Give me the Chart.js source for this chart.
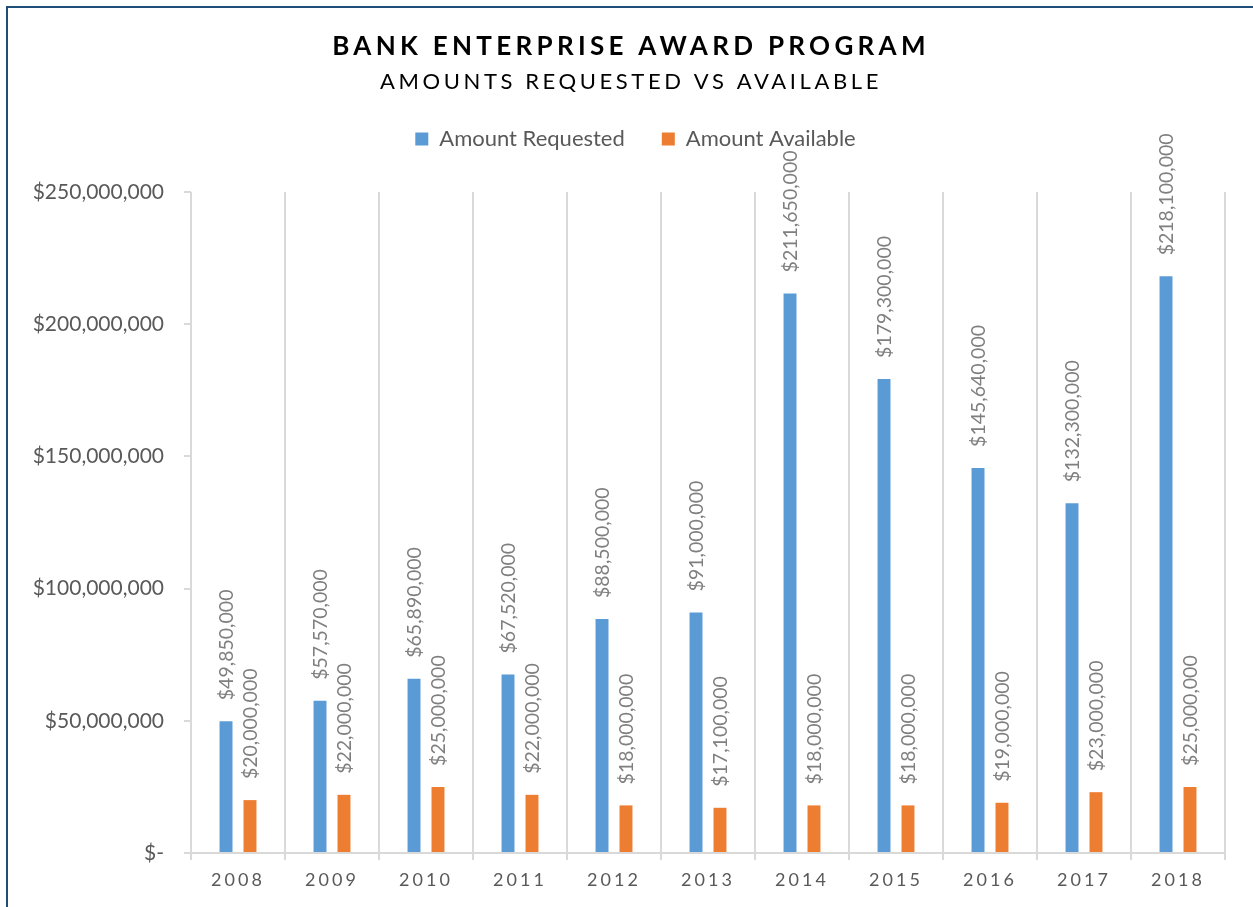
<!DOCTYPE html>
<html>
<head>
<meta charset="utf-8">
<script src="https://cdn.jsdelivr.net/npm/chart.js@4/dist/chart.umd.min.js"></script>
<style>
  html, body { margin: 0; padding: 0; background: #ffffff; }
  #wrap { position: relative; width: 1253px; height: 907px; }
  canvas { display: block; }
</style>
</head>
<body>
<div id="wrap"><canvas id="c" width="1253" height="907"></canvas></div>
<script>
const chartTitle = 'BANK ENTERPRISE AWARD PROGRAM';
const chartSubtitle = 'AMOUNTS REQUESTED VS AVAILABLE';
const years = ['2008', '2009', '2010', '2011', '2012', '2013', '2014', '2015', '2016', '2017', '2018'];
const seriesNames = ['Amount Requested', 'Amount Available'];
const amountRequested = [49850000, 57570000, 65890000, 67520000, 88500000, 91000000, 211650000, 179300000, 145640000, 132300000, 218100000];
const amountAvailable = [20000000, 22000000, 25000000, 22000000, 18000000, 17100000, 18000000, 18000000, 19000000, 23000000, 25000000];
const yMin = 0, yMax = 250000000, yStep = 50000000;

const FONT = 'Lato, "Open Sans", sans-serif';

function money(v) {
  if (v === 0) return '$-';
  return '$' + v.toLocaleString('en-US');
}

const frameAndText = {
  id: 'frameAndText',
  afterLayout(chart) {
    const lg = chart.legend;
    if (lg) {
      lg.top -= 32; lg.bottom -= 32;
      lg.left += 23; lg.right += 23;
    }
  },
  beforeDraw(chart) {
    chart.ctx.letterSpacing = '0px';
  },
  afterDatasetsDraw(chart) {
    const ctx = chart.ctx;
    ctx.save();
    ctx.font = '19.5px ' + FONT;
    ctx.fillStyle = '#7f7f7f';
    ctx.textAlign = 'left';
    ctx.textBaseline = 'middle';
    chart.data.datasets.forEach((ds, di) => {
      const meta = chart.getDatasetMeta(di);
      meta.data.forEach((bar, i) => {
        ctx.save();
        ctx.translate(bar.x + 1, bar.y - 21);
        ctx.rotate(-Math.PI / 2);
        ctx.fillText(money(ds.data[i]), 0, 0);
        ctx.restore();
      });
    });
    ctx.restore();
    // letter spacing for x tick labels (drawn after datasets)
    ctx.letterSpacing = '3px';
  },
  afterDraw(chart) {
    const ctx = chart.ctx;
    ctx.save();
    ctx.letterSpacing = '0px';
    // frame
    ctx.strokeStyle = '#1f4e79';
    ctx.lineWidth = 2;
    ctx.beginPath();
    ctx.moveTo(7, 908);
    ctx.lineTo(7, 7);
    ctx.lineTo(1254, 7);
    ctx.stroke();
    // titles
    ctx.textAlign = 'center';
    ctx.textBaseline = 'middle';
    ctx.fillStyle = '#000000';
    ctx.font = 'bold 26px ' + FONT;
    ctx.letterSpacing = '4.3px';
    ctx.fillText(chartTitle, 631, 47);
    ctx.font = '22px ' + FONT;
    ctx.letterSpacing = '3.6px';
    ctx.fillText(chartSubtitle, 631, 82);
    ctx.restore();
    ctx.letterSpacing = '0px';
  }
};

const ctx = document.getElementById('c').getContext('2d');
new Chart(ctx, {
  type: 'bar',
  data: {
    labels: years,
    datasets: [
      { label: seriesNames[0], data: amountRequested, backgroundColor: '#5b9bd5', borderWidth: 0 },
      { label: seriesNames[1], data: amountAvailable, backgroundColor: '#ed7d31', borderWidth: 0 }
    ]
  },
  options: {
    responsive: false,
    animation: false,
    devicePixelRatio: 1,
    layout: { padding: { top: 123, left: 0, right: 28, bottom: 0 } },
    datasets: {
      bar: { categoryPercentage: 0.51, barPercentage: 0.54 }
    },
    plugins: {
      title: { display: false },
      tooltip: { enabled: false },
      legend: {
        display: true,
        position: 'top',
        labels: {
          boxWidth: 13,
          boxHeight: 13,
          padding: 37,
          color: '#595959',
          font: { family: FONT, size: 22 }
        }
      }
    },
    scales: {
      x: {
        offset: true,
        grid: {
          display: true,
          offset: true,
          drawOnChartArea: true,
          drawTicks: true,
          tickLength: 7,
          color: '#d9d9d9',
          lineWidth: 2
        },
        border: { display: true, color: '#d9d9d9', width: 2 },
        ticks: {
          color: '#595959',
          font: { family: FONT, size: 18 },
          padding: 9,
          maxRotation: 0,
          z: 1
        },
        afterFit(scale) { scale.height = 54; }
      },
      y: {
        min: yMin,
        max: yMax,
        grid: {
          display: true,
          drawOnChartArea: false,
          drawTicks: true,
          tickLength: 7,
          color: '#d9d9d9',
          lineWidth: 2
        },
        border: { display: false },
        ticks: {
          stepSize: yStep,
          color: '#595959',
          font: { family: FONT, size: 21 },
          padding: 20,
          callback: (v) => money(v)
        },
        afterFit(scale) { scale.width = 191; }
      }
    }
  },
  plugins: [frameAndText]
});
</script>
</body>
</html>
